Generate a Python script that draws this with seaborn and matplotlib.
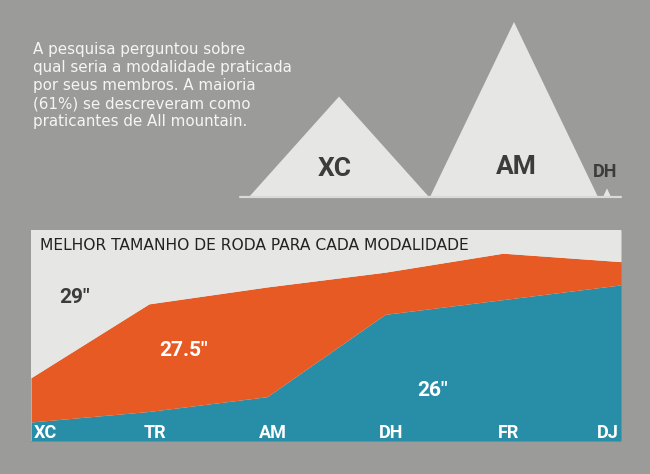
import matplotlib
matplotlib.use("Agg")
import matplotlib.pyplot as plt
import numpy as np
import pandas as pd
import seaborn as sns

# ---------------- data ----------------
modalities = ["XC", "TR", "AM", "DH", "FR", "DJ"]
wheel_26 = [9, 14, 21, 60, 67, 74]
wheel_275 = [21, 51, 52, 20, 22, 11]
wheel_29 = [70, 35, 27, 20, 11, 15]
wheel_labels = ['26"', '27.5"', '29"']

mountain_labels = ["XC", "AM", "DH"]
mountain_values = [35, 61, 3]

title = "MELHOR TAMANHO DE RODA PARA CADA MODALIDADE"
intro = ("A pesquisa perguntou sobre\n"
         "qual seria a modalidade praticada\n"
         "por seus membros. A maioria\n"
         "(61%) se descreveram como\n"
         "praticantes de All mountain.")

# ---------------- style ----------------
BG = "#9b9b99"
PANEL = "#e6e6e4"
ORANGE = "#e85a23"
TEAL = "#288ea7"
DARK = "#3c3c3c"

sns.set_theme(style="white")
plt.rcParams["font.family"] = ["DejaVu Sans"]
COND = ["Roboto", "DejaVu Sans"]

W, H = 650, 474
fig = plt.figure(figsize=(W / 100, H / 100), dpi=100, facecolor=BG)


def fx(px):
    return px / W


def fy(py):
    return 1 - py / H


# ---------------- intro text ----------------
fig.text(fx(33), fy(42), intro, ha="left", va="top", color="#f5f5f3",
         fontsize=10.9, linespacing=1.26)

# ---------------- mountains ----------------
base_y = 197
top_y = 22
ax_m = fig.add_axes([fx(240), fy(base_y), fx(621) - fx(240), fy(0) - fy(base_y)])
ax_m.set_facecolor("none")
scale_top = max(mountain_values) * base_y / (base_y - top_y)
ax_m.set_xlim(240, 621)
ax_m.set_ylim(0, scale_top)
centers = [339, 514, 607]
half_w = [90, 84, 4]
for c, hw, v in zip(centers, half_w, mountain_values):
    ax_m.fill([c - hw, c, c + hw], [0, v, 0], color=PANEL, lw=0)
ax_m.axhline(0, color="#dadad8", lw=1.6, clip_on=False)
ax_m.set_axis_off()

m_label_pos = [(335, 169, 19), (516, 167, 19), (605, 172, 13)]
for lab, (x, y, fs) in zip(mountain_labels, m_label_pos):
    fig.text(fx(x), fy(y), lab, ha="center", va="center", color=DARK,
             fontsize=fs, fontweight="bold", family=COND, fontstretch="condensed")

# ---------------- stacked area ----------------
left, right, top, bottom = 31, 621, 230, 441
ax = fig.add_axes([fx(left), fy(bottom), fx(right) - fx(left), fy(top) - fy(bottom)])
ax.set_facecolor(PANEL)
x = np.arange(len(modalities))
ax.stackplot(x, wheel_26, wheel_275, wheel_29,
             colors=[TEAL, ORANGE, PANEL], linewidth=0, labels=wheel_labels)
ax.set_xlim(0, len(modalities) - 1)
ax.set_ylim(0, 100)
ax.set_xticks([])
ax.set_yticks([])
sns.despine(ax=ax, left=True, bottom=True)

ax.text(0.016, 0.925, title, transform=ax.transAxes, ha="left", va="center",
        color="#222222", fontsize=11.2)

# modality labels along bottom
n = len(modalities)
for i, lab in enumerate(modalities):
    if i == 0:
        ha, xi = "left", i + 0.02
    elif i == n - 1:
        ha, xi = "right", i - 0.02
    else:
        ha, xi = "center", i + 0.05
    ax.text(xi, 4, lab, ha=ha, va="center", color="white",
            fontsize=13, fontweight="bold", family=COND, fontstretch="condensed")

# area labels
area_pos = [(3.40, 24, "white"), (1.29, 43, "white"), (0.37, 68, DARK)]
for lab, (xx, yy, col) in zip(wheel_labels, area_pos):
    ax.text(xx, yy, lab, ha="center", va="center", color=col,
            fontsize=15, fontweight="bold", family=COND, fontstretch="condensed")

fig.savefig("out.png", dpi=100, facecolor=BG)
